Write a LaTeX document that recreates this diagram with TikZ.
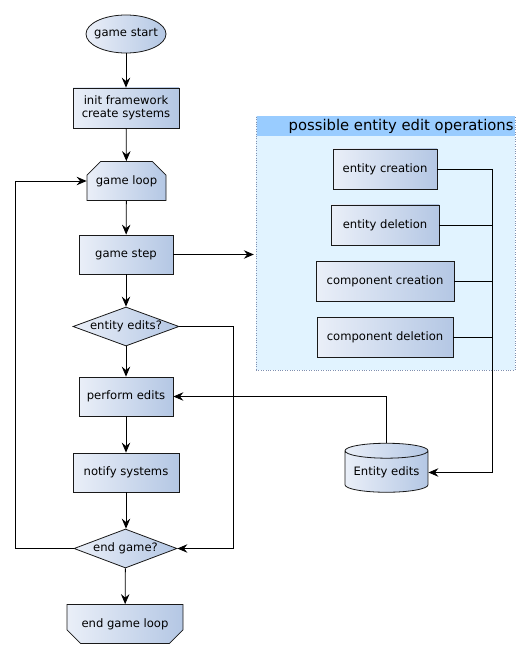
\documentclass[tikz,border=0pt]{standalone}
\usepackage{fontspec}
\setmainfont{DejaVu Sans}
\usepackage{tikz}
\usetikzlibrary{positioning,arrows.meta,calc,shapes.geometric,shapes.misc}
\definecolor{fillL}{HTML}{EAEFF8}
\definecolor{fillR}{HTML}{B4C7E4}
\definecolor{opsbg}{HTML}{E1F3FF}
\definecolor{opshead}{HTML}{99CCFF}
\definecolor{opsline}{HTML}{8090B0}

\begin{document}
\begin{tikzpicture}[
    x=1pt, y=-1pt,
    font=\fontsize{11.6}{13.6}\selectfont,
    base/.style={draw=black!90, line width=0.8pt, left color=fillL, right color=fillR, align=center, inner sep=1pt},
    proc/.style={base, rectangle, minimum width=94pt, minimum height=39pt},
    term/.style={base, ellipse, inner xsep=-4pt, inner ysep=0pt, minimum width=80pt, minimum height=38pt},
    decide/.style={base, diamond, aspect=2.8, inner sep=0pt, minimum width=106pt, minimum height=39pt},
    loophead/.style={base, chamfered rectangle, chamfered rectangle xsep=7pt, chamfered rectangle ysep=7pt, minimum height=39pt},
    store/.style={base, cylinder, shape border rotate=90, aspect=0.22, minimum width=83pt, minimum height=49pt},
    arr/.style={-{Stealth[length=10pt, width=8.5pt, inset=3.5pt]}, line width=0.8pt},
    wire/.style={line width=0.8pt}
]
    \useasboundingbox (0,0) rectangle (531,660);

    % edit operations container
    \node[draw=opsline, dotted, fill=opsbg, minimum width=259pt, minimum height=254pt, inner sep=0pt] (ops) at (385.5,243) {};
    \node[fill=opshead, anchor=north, minimum width=258pt, minimum height=20pt, inner sep=0pt] (opshd) at ([yshift=-0.5pt]ops.north) {};
    \node[anchor=east, font=\fontsize{14.8}{16}\selectfont, inner sep=1pt] (opstitle) at (opshd.east) {possible entity edit operations};

    % main flow
    \node[term] (start) at (126,34) {game start};
    \node[proc, minimum width=106pt, minimum height=40pt] (init) at (126,108) {init framework\\create systems};
    \node[loophead, chamfered rectangle corners={north west,north east}, minimum width=79pt] (loop) at (126.5,181) {game loop};
    \node[proc] (step) at (126,254.5) {game step};
    \node[decide] (edits) at (126,326.5) {entity edits?};
    \node[proc] (perform) at (126,396.5) {perform edits};
    \node[proc, minimum width=106pt] (notify) at (126,472.5) {notify systems};
    \node[decide, minimum width=103pt] (endq) at (125.5,548.5) {end game?};
    \node[loophead, chamfered rectangle corners={south west,south east}, minimum width=116pt] (endloop) at (125,624) {end game loop};

    % operations
    \node[proc, minimum width=104pt, minimum height=40pt] (ecr) at (385,169) {entity creation};
    \node[proc, minimum width=108pt, minimum height=40pt] (edl) at (385,225) {entity deletion};
    \node[proc, minimum width=138pt, minimum height=40pt] (ccr) at (385,281) {component creation};
    \node[proc, minimum width=136pt, minimum height=40pt] (cdl) at (385,337) {component deletion};
    \node[store] (edlist) at (386.5,472.5) {Entity edits};

    \coordinate (bus) at (492,169);
    \coordinate (skip) at (233,326.5);
    \coordinate (back) at (15,548.5);

    \draw[arr] (start) -- (init);
    \draw[arr] (init) -- (loop);
    \draw[arr] (loop) -- (step);
    \draw[arr] (step) -- (edits);
    \draw[arr] (edits) -- (perform);
    \draw[arr] (perform) -- (notify);
    \draw[arr] (notify.south) -- (notify.south |- endq.north);
    \draw[arr] (endq) -- (endloop);
    \draw[arr] (endq.west) -- (back) |- (loop.west);
    \draw[arr] (edits.east) -- (skip) |- (endq.east);
    \draw[arr] (step.east) -- ([xshift=-2pt]ops.west |- step.east);

    \foreach \op in {ecr,edl,ccr,cdl}
        \draw[wire] (\op.east) -- (bus |- \op.east);
    \draw[arr] (bus) |- (edlist.east);
    \draw[arr] (edlist.north) |- (perform.east);
\end{tikzpicture}
\end{document}
